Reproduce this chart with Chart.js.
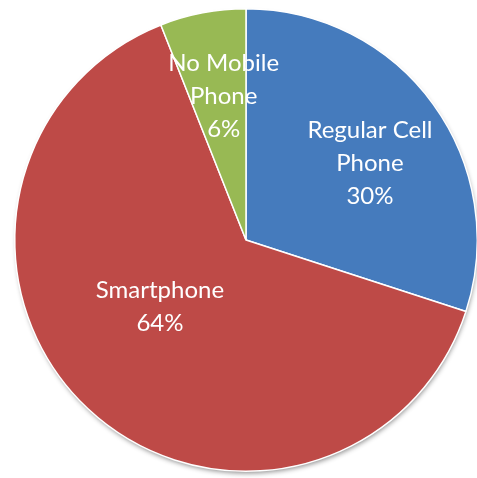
<!DOCTYPE html>
<html>
<head>
<meta charset="utf-8">
<script src="https://cdn.jsdelivr.net/npm/chart.js@4"></script>
<style>
  html, body { margin: 0; padding: 0; background: #fff; overflow: hidden; }
  #wrap { width: 480px; height: 478px; }
</style>
</head>
<body>
<div id="wrap"><canvas id="myChart"></canvas></div>
<script>
const categories = ['Regular Cell Phone', 'Smartphone', 'No Mobile Phone'];
const shares = [30, 64, 6];
const labelLines = [['Regular Cell', 'Phone', '30%'], ['Smartphone', '64%'], ['No Mobile', 'Phone', '6%']];
const sliceColors = ['#457BBD', '#BE4A47', '#98B954'];

// where each label sits: fraction of radius and angle nudge (radians)
const labelRadius = [0.63, 0.47, 0.63];
const labelTurn = [0.075, 0.16, 0.035];

const shadowPlugin = {
  id: 'pieShadow',
  beforeDatasetsDraw(chart) {
    const arc = chart.getDatasetMeta(0).data[0];
    const c = chart.ctx;
    c.save();
    c.shadowColor = 'rgba(0,0,0,0.45)';
    c.shadowBlur = 5;
    c.shadowOffsetX = 1;
    c.shadowOffsetY = 3;
    c.fillStyle = '#888';
    c.beginPath();
    c.arc(arc.x, arc.y, arc.outerRadius - 1, 0, Math.PI * 2);
    c.fill();
    c.restore();
  }
};

const labelPlugin = {
  id: 'sliceLabels',
  afterDatasetsDraw(chart) {
    const c = chart.ctx;
    c.save();
    c.fillStyle = '#fff';
    c.font = '24px Lato, "Open Sans", sans-serif';
    c.textAlign = 'center';
    c.textBaseline = 'middle';
    chart.getDatasetMeta(0).data.forEach((arc, i) => {
      const mid = (arc.startAngle + arc.endAngle) / 2 + labelTurn[i];
      const r = arc.outerRadius * labelRadius[i];
      const x = arc.x + Math.cos(mid) * r;
      const y = arc.y + Math.sin(mid) * r;
      const lines = labelLines[i];
      const lh = 33;
      lines.forEach((t, k) => {
        c.fillText(t, x, y + (k - (lines.length - 1) / 2) * lh);
      });
    });
    c.restore();
  }
};

new Chart(document.getElementById('myChart'), {
  type: 'pie',
  data: {
    labels: categories,
    datasets: [{
      data: shares,
      backgroundColor: sliceColors,
      borderColor: '#fff',
      borderWidth: 1.5
    }]
  },
  options: {
    responsive: true,
    maintainAspectRatio: false,
    animation: false,
    layout: { padding: { left: 14, right: 2, top: 8, bottom: 6 } },
    plugins: {
      legend: { display: false },
      tooltip: { enabled: false }
    }
  },
  plugins: [shadowPlugin, labelPlugin]
});
</script>
</body>
</html>
